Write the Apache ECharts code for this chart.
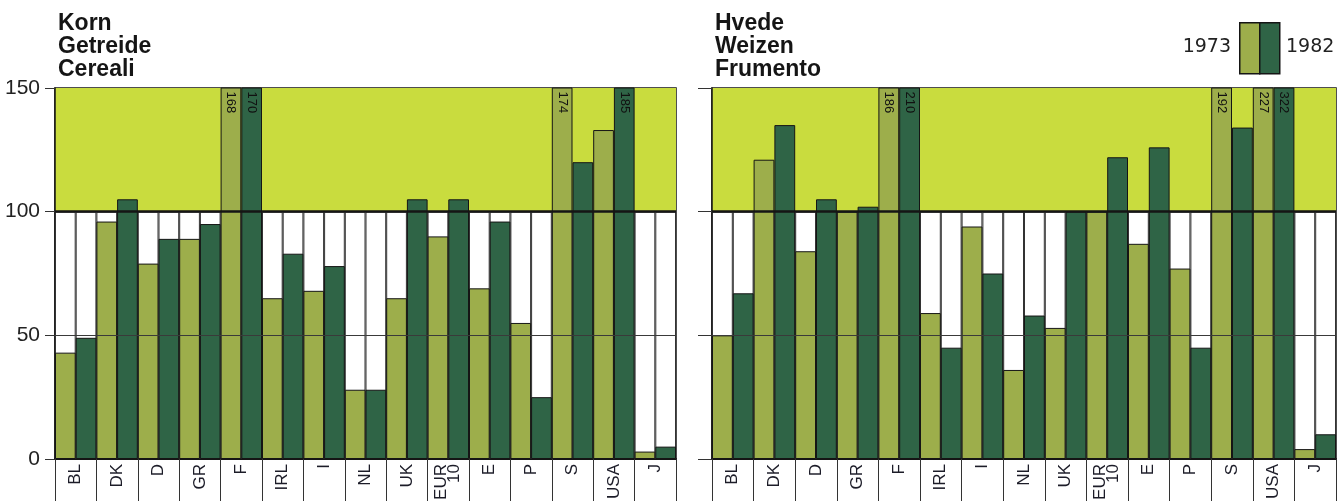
<!DOCTYPE html>
<html>
<head>
<meta charset="utf-8">
<script src="https://cdn.jsdelivr.net/npm/echarts@6/dist/echarts.min.js"></script>
<style>
  html, body { margin: 0; padding: 0; background: #fff; }
  #chart { width: 1338px; height: 501px; }
</style>
</head>
<body>
<div id="chart"></div>
<script>
// categories and values (index, 1973 vs 1982)
var categories = ['BL', 'DK', 'D', 'GR', 'F', 'IRL', 'I', 'NL', 'UK', 'EUR\n10', 'E', 'P', 'S', 'USA', 'J'];
var korn1973 = [43, 96, 79, 89, 168, 65, 68, 28, 65, 90, 69, 55, 174, 133, 3];
var korn1982 = [49, 105, 89, 95, 170, 83, 78, 28, 105, 105, 96, 25, 120, 185, 5];
var hvede1973 = [50, 121, 84, 100, 186, 59, 94, 36, 53, 100, 87, 77, 192, 227, 4];
var hvede1982 = [67, 135, 105, 102, 210, 45, 75, 58, 100, 122, 126, 45, 134, 322, 10];
var yTicks = [0, 50, 100, 150];
var years = ['1973', '1982'];

var FONT = '"Liberation Sans", Arial, sans-serif';
var WIDE = '"DejaVu Sans", sans-serif';
var LIGHT = '#9dae4b';
var DARK = '#2f6446';
var BAND = '#c9dc3e';
var INK = '#151515';

var frame = categories.map(function () { return 100; });

function frameSeries(xi, yi) {
  return {
    type: 'bar', xAxisIndex: xi, yAxisIndex: yi, data: frame,
    barGap: '0%', barCategoryGap: '0%', silent: true, z: 1,
    itemStyle: { color: '#fff', borderColor: '#333', borderWidth: 1 }
  };
}

function dataSeries(name, xi, yi, data, color) {
  return {
    name: name, type: 'bar', xAxisIndex: xi, yAxisIndex: yi, data: data,
    barGap: '0%', barCategoryGap: '0%', z: 3,
    itemStyle: { color: color, borderColor: INK, borderWidth: 1 },
    label: {
      show: true, position: ['50%', 4], rotate: -90,
      align: 'left', verticalAlign: 'middle',
      fontFamily: FONT, fontSize: 13, color: '#111',
      formatter: function (p) { return p.value > 150 ? String(p.value) : ''; }
    }
  };
}

function bandAndLines(xi, yi) {
  // empty line series carrying the yellow band and the 50/100 rules
  return {
    type: 'line', xAxisIndex: xi, yAxisIndex: yi, data: [], z: 5, silent: true,
    markArea: {
      silent: true, z: 0,
      itemStyle: { color: BAND },
      data: [[{ yAxis: 100 }, { yAxis: 150 }]]
    },
    markLine: {
      silent: true, symbol: 'none', label: { show: false },
      data: [
        { yAxis: 50, lineStyle: { color: '#3a3a3a', width: 1, type: 'solid' } },
        { yAxis: 100, lineStyle: { color: INK, width: 2.5, type: 'solid' } }
      ]
    }
  };
}

function catAxis(gi, visible) {
  return {
    type: 'category', gridIndex: gi, data: categories, show: visible,
    axisLine: { show: true, lineStyle: { color: INK, width: 2 } },
    axisTick: { show: true, length: 44, lineStyle: { color: '#333', width: 1 } },
    axisLabel: {
      rotate: 90, margin: 5, interval: 0, color: '#1c1c28',
      fontFamily: FONT, fontSize: 17, lineHeight: 13
    }
  };
}

function valAxis(gi, labels, tickLen) {
  return {
    type: 'value', gridIndex: gi, min: 0, max: 150, interval: 50,
    axisLine: { show: true, lineStyle: { color: INK, width: 1.5 } },
    axisTick: { show: true, length: tickLen, lineStyle: { color: '#333', width: 1 } },
    axisLabel: { show: labels, margin: 15, color: '#222', fontFamily: FONT, fontSize: 21,
      formatter: function (v) { return yTicks.indexOf(v) >= 0 ? String(v) : ''; } },
    splitLine: { show: false }
  };
}

var titleStyle = { fontFamily: FONT, fontSize: 23, fontWeight: 'bold', lineHeight: 23, color: INK };

var chart = echarts.init(document.getElementById('chart'));
chart.setOption({
  animation: false,
  backgroundColor: '#fff',
  title: [
    { text: 'Korn\nGetreide\nCereali', left: 53, top: 7, textStyle: titleStyle },
    { text: 'Hvede\nWeizen\nFrumento', left: 710, top: 7, textStyle: titleStyle }
  ],
  grid: [
    { left: 55, top: 88, width: 621, height: 371, outerBoundsMode: 'none', containLabel: false,
      show: true, borderColor: INK, borderWidth: 1.5, backgroundColor: 'transparent' },
    { left: 712, top: 88, width: 624, height: 371, outerBoundsMode: 'none', containLabel: false,
      show: true, borderColor: INK, borderWidth: 1.5, backgroundColor: 'transparent' }
  ],
  xAxis: [catAxis(0, true), catAxis(0, false), catAxis(1, true), catAxis(1, false)],
  yAxis: [valAxis(0, true, 10), valAxis(1, false, 14)],
  series: [
    frameSeries(1, 0), frameSeries(1, 0),
    bandAndLines(0, 0),
    dataSeries(years[0], 0, 0, korn1973, LIGHT),
    dataSeries(years[1], 0, 0, korn1982, DARK),
    frameSeries(3, 1), frameSeries(3, 1),
    bandAndLines(2, 1),
    dataSeries(years[0], 2, 1, hvede1973, LIGHT),
    dataSeries(years[1], 2, 1, hvede1982, DARK)
  ],
  graphic: [
    { type: 'text', right: 1338 - 1231, top: 38,
      style: { text: years[0], font: '19px ' + WIDE, fill: '#222', textAlign: 'right' } },
    { type: 'rect', left: 1239, top: 22, shape: { width: 20, height: 51 },
      style: { fill: LIGHT, stroke: INK, lineWidth: 1.5 } },
    { type: 'rect', left: 1259, top: 22, shape: { width: 20, height: 51 },
      style: { fill: DARK, stroke: INK, lineWidth: 1.5 } },
    { type: 'text', left: 1286, top: 38,
      style: { text: years[1], font: '19px ' + WIDE, fill: '#222' } }
  ]
});
</script>
</body>
</html>
